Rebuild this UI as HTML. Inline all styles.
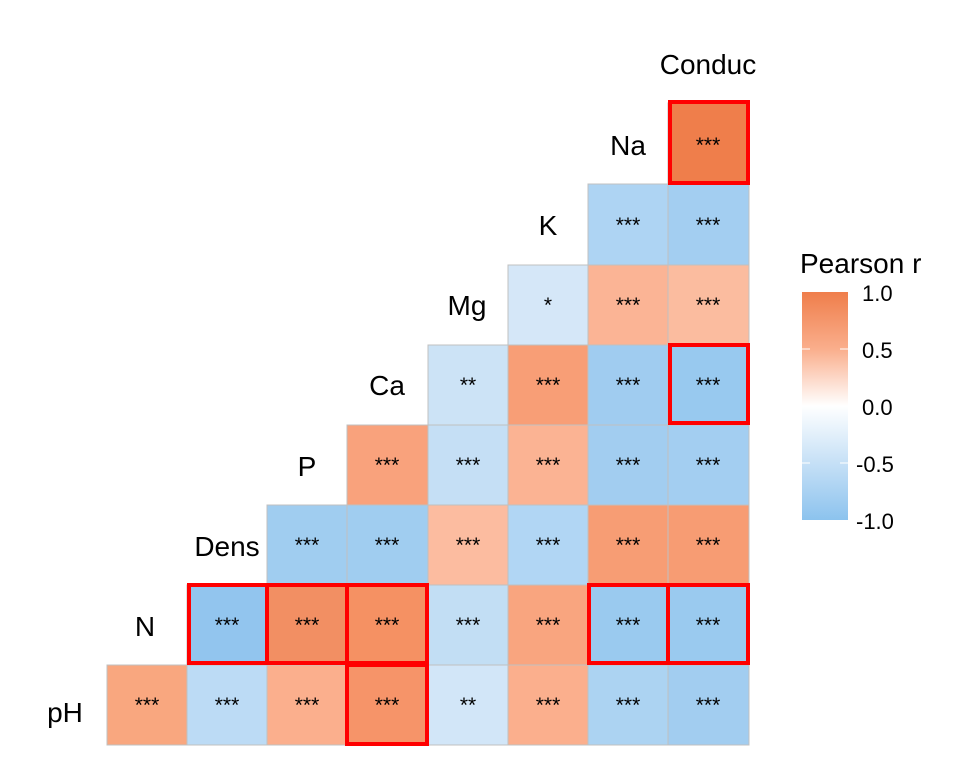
<!DOCTYPE html>
<html><head><meta charset="utf-8"><style>body{margin:0;background:#fff}svg{display:block}</style></head><body>
<svg width="960" height="768" xmlns="http://www.w3.org/2000/svg" font-family="Liberation Sans, sans-serif">
<defs><linearGradient id="g" x1="0" y1="0" x2="0" y2="1">
<stop offset="0" stop-color="#EF7E4B"/><stop offset="0.25" stop-color="#FAAE8C"/><stop offset="0.5" stop-color="#FFFFFF"/><stop offset="0.75" stop-color="#C6E0F6"/><stop offset="1" stop-color="#8CC3EE"/></linearGradient></defs>
<g stroke="#c0c0c0" stroke-width="1">
<rect x="668" y="103" width="81" height="81" fill="#EF7E4B"/>
<rect x="588" y="184" width="80" height="81" fill="#AED4F3"/>
<rect x="668" y="184" width="81" height="81" fill="#A3CEF1"/>
<rect x="508" y="265" width="80" height="80" fill="#D5E7F8"/>
<rect x="588" y="265" width="80" height="80" fill="#FBB495"/>
<rect x="668" y="265" width="81" height="80" fill="#FBBC9F"/>
<rect x="428" y="345" width="80" height="80" fill="#CCE3F6"/>
<rect x="508" y="345" width="80" height="80" fill="#F89E76"/>
<rect x="588" y="345" width="80" height="80" fill="#A0CCF0"/>
<rect x="668" y="345" width="81" height="80" fill="#98C9EF"/>
<rect x="347" y="425" width="81" height="80" fill="#F9A27C"/>
<rect x="428" y="425" width="80" height="80" fill="#C5DFF5"/>
<rect x="508" y="425" width="80" height="80" fill="#FBB393"/>
<rect x="588" y="425" width="80" height="80" fill="#A2CDF0"/>
<rect x="668" y="425" width="81" height="80" fill="#A3CEF1"/>
<rect x="267" y="505" width="80" height="80" fill="#A0CDF0"/>
<rect x="347" y="505" width="81" height="80" fill="#A0CDF0"/>
<rect x="428" y="505" width="80" height="80" fill="#FCBCA0"/>
<rect x="508" y="505" width="80" height="80" fill="#B1D6F4"/>
<rect x="588" y="505" width="80" height="80" fill="#F79D74"/>
<rect x="668" y="505" width="81" height="80" fill="#F79C73"/>
<rect x="187" y="585" width="80" height="80" fill="#92C5EE"/>
<rect x="267" y="585" width="80" height="80" fill="#F28F63"/>
<rect x="347" y="585" width="81" height="80" fill="#F59163"/>
<rect x="428" y="585" width="80" height="80" fill="#C2DEF4"/>
<rect x="508" y="585" width="80" height="80" fill="#F9A57F"/>
<rect x="588" y="585" width="80" height="80" fill="#9ACAEF"/>
<rect x="668" y="585" width="81" height="80" fill="#9ACAEF"/>
<rect x="107" y="665" width="80" height="80" fill="#F9A77F"/>
<rect x="187" y="665" width="80" height="80" fill="#BCDBF5"/>
<rect x="267" y="665" width="80" height="80" fill="#FBAF8D"/>
<rect x="347" y="665" width="81" height="80" fill="#F69469"/>
<rect x="428" y="665" width="80" height="80" fill="#D2E6F8"/>
<rect x="508" y="665" width="80" height="80" fill="#FBAF8D"/>
<rect x="588" y="665" width="80" height="80" fill="#ACD3F2"/>
<rect x="668" y="665" width="81" height="80" fill="#A2CDF0"/>
</g>
<g fill="none" stroke="#FF0000" stroke-width="4">
<rect x="670" y="102" width="78" height="81"/>
<rect x="670" y="345" width="78" height="78"/>
<rect x="189" y="585" width="78" height="78"/>
<rect x="267" y="585" width="80" height="78"/>
<rect x="347" y="585" width="80" height="78"/>
<rect x="347" y="665" width="80" height="79"/>
<rect x="589" y="585" width="79" height="78"/>
<rect x="668" y="585" width="80" height="78"/>
</g>
<g font-size="21" text-anchor="middle" fill="#000">
<text x="708" y="152">***</text>
<text x="628" y="232">***</text><text x="708" y="232">***</text>
<text x="548" y="312">*</text><text x="628" y="312">***</text><text x="708" y="312">***</text>
<text x="468" y="392">**</text><text x="548" y="392">***</text><text x="628" y="392">***</text><text x="708" y="392">***</text>
<text x="387" y="472">***</text><text x="468" y="472">***</text><text x="548" y="472">***</text><text x="628" y="472">***</text><text x="708" y="472">***</text>
<text x="307" y="552">***</text><text x="387" y="552">***</text><text x="468" y="552">***</text><text x="548" y="552">***</text><text x="628" y="552">***</text><text x="708" y="552">***</text>
<text x="227" y="632">***</text><text x="307" y="632">***</text><text x="387" y="632">***</text><text x="468" y="632">***</text><text x="548" y="632">***</text><text x="628" y="632">***</text><text x="708" y="632">***</text>
<text x="147" y="712">***</text><text x="227" y="712">***</text><text x="307" y="712">***</text><text x="387" y="712">***</text><text x="468" y="712">**</text><text x="548" y="712">***</text><text x="628" y="712">***</text><text x="708" y="712">***</text>
</g>
<g font-size="28" text-anchor="middle" fill="#000">
<text x="65" y="722">pH</text><text x="145" y="636">N</text><text x="227" y="556">Dens</text><text x="307" y="476">P</text><text x="387" y="395">Ca</text><text x="467" y="315">Mg</text><text x="548" y="235">K</text><text x="628" y="155">Na</text><text x="708" y="74">Conduc</text>
</g>
<text x="800" y="273" font-size="28">Pearson r</text>
<rect x="802" y="292" width="46" height="228" fill="url(#g)"/>
<g stroke="#fff" stroke-width="1"><line x1="802" y1="349" x2="810" y2="349"/><line x1="840" y1="349" x2="848" y2="349"/><line x1="802" y1="406" x2="810" y2="406"/><line x1="840" y1="406" x2="848" y2="406"/><line x1="802" y1="463" x2="810" y2="463"/><line x1="840" y1="463" x2="848" y2="463"/></g>
<g font-size="22" fill="#000"><text x="862" y="301">1.0</text><text x="862" y="358">0.5</text><text x="862" y="415">0.0</text><text x="856" y="472">-0.5</text><text x="856" y="529">-1.0</text></g>
</svg>
</body></html>
